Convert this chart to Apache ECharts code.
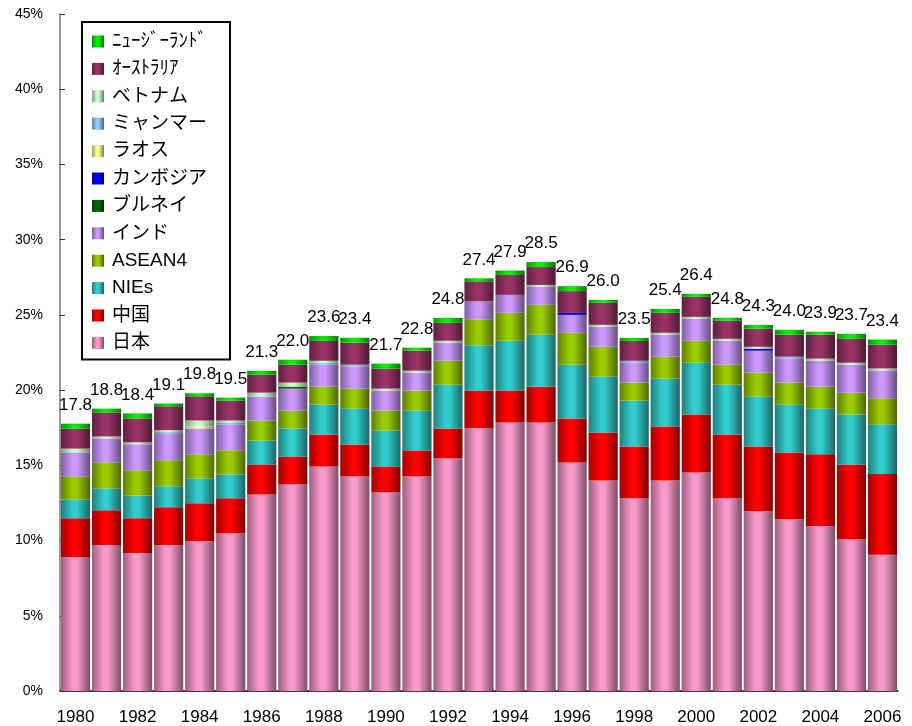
<!DOCTYPE html>
<html>
<head>
<meta charset="utf-8">
<script src="https://cdn.jsdelivr.net/npm/echarts@6/dist/echarts.min.js"></script>
<style>
  html, body { margin: 0; padding: 0; background: #fff; }
  #chart { width: 912px; height: 726px; }
</style>
</head>
<body>
<div id="chart"></div>
<script>
const years = ['1980', '1981', '1982', '1983', '1984', '1985', '1986', '1987', '1988', '1989',
  '1990', '1991', '1992', '1993', '1994', '1995', '1996', '1997', '1998', '1999',
  '2000', '2001', '2002', '2003', '2004', '2005', '2006'];

const japan = [8.9, 9.7, 9.17, 9.7, 9.96, 10.49, 13.07, 13.74, 14.93, 14.27, 13.21, 14.27, 15.46, 17.48,
  17.85, 17.85, 15.19, 14.0, 12.81, 14.0, 14.53, 12.81, 11.95, 11.42, 10.96, 10.09, 9.05];
const china = [2.58, 2.31, 2.32, 2.52, 2.52, 2.32, 1.99, 1.85, 2.12, 2.12, 1.72, 1.72, 1.99, 2.48,
  2.12, 2.38, 2.92, 3.18, 3.45, 3.58, 3.85, 4.24, 4.31, 4.44, 4.77, 4.97, 5.37];
const nies = [1.24, 1.46, 1.51, 1.39, 1.65, 1.59, 1.59, 1.86, 1.99, 2.38, 2.38, 2.65, 2.91, 3.03,
  3.31, 3.45, 3.58, 3.72, 3.04, 3.18, 3.44, 3.31, 3.31, 3.18, 3.04, 3.32, 3.31];
const asean4 = [1.55, 1.73, 1.67, 1.73, 1.6, 1.6, 1.33, 1.19, 1.19, 1.33, 1.33, 1.33, 1.6, 1.72,
  1.86, 1.99, 2.12, 1.98, 1.2, 1.46, 1.46, 1.33, 1.59, 1.46, 1.46, 1.45, 1.73];
const india = [1.59, 1.59, 1.73, 1.74, 1.72, 1.72, 1.59, 1.46, 1.46, 1.46, 1.33, 1.19, 1.19, 1.19,
  1.19, 1.19, 1.19, 1.33, 1.32, 1.46, 1.46, 1.59, 1.46, 1.59, 1.73, 1.86, 1.85];
const brunei = [0, 0, 0, 0, 0, 0, 0, 0.13, 0, 0, 0, 0, 0, 0,
  0, 0, 0, 0, 0, 0, 0, 0, 0, 0, 0, 0, 0];
const cambodia = [0, 0, 0, 0, 0, 0, 0, 0, 0, 0, 0, 0, 0, 0,
  0, 0, 0.13, 0, 0, 0, 0, 0, 0.13, 0, 0, 0, 0];
const laos = [0, 0, 0, 0, 0.13, 0, 0, 0, 0, 0, 0, 0, 0, 0,
  0, 0, 0, 0, 0, 0, 0, 0, 0, 0, 0, 0, 0];
const myanmar = [0, 0, 0, 0.13, 0, 0.13, 0, 0, 0.13, 0.13, 0, 0, 0, 0,
  0, 0, 0, 0, 0.13, 0, 0, 0, 0, 0.13, 0, 0, 0];
const vietnam = [0.25, 0.13, 0.13, 0.13, 0.4, 0.13, 0.26, 0.27, 0.13, 0, 0.13, 0.13, 0.13, 0,
  0, 0.13, 0, 0.13, 0, 0.13, 0.13, 0.13, 0.13, 0, 0.13, 0.13, 0.13];
const australia = [1.33, 1.6, 1.59, 1.59, 1.61, 1.32, 1.2, 1.19, 1.32, 1.46, 1.33, 1.33, 1.19, 1.33,
  1.32, 1.19, 1.45, 1.46, 1.32, 1.33, 1.33, 1.2, 1.2, 1.46, 1.59, 1.59, 1.59];
const newZealand = [0.33, 0.25, 0.33, 0.18, 0.2, 0.2, 0.25, 0.33, 0.33, 0.33, 0.33, 0.2, 0.33, 0.2,
  0.3, 0.33, 0.33, 0.2, 0.2, 0.25, 0.2, 0.2, 0.25, 0.33, 0.2, 0.33, 0.33];

// totals printed above each bar
const totals = ['17.8', '18.8', '18.4', '19.1', '19.8', '19.5', '21.3', '22.0', '23.6', '23.4',
  '21.7', '22.8', '24.8', '27.4', '27.9', '28.5', '26.9', '26.0', '23.5', '25.4',
  '26.4', '24.8', '24.3', '24.0', '23.9', '23.7', '23.4'];

// bottom -> top of the stack
const seriesDefs = [
  { name: '日本', data: japan, color: '#F99ACB' },
  { name: '中国', data: china, color: '#FF0000' },
  { name: 'NIEs', data: nies, color: '#33CCCC' },
  { name: 'ASEAN4', data: asean4, color: '#99CC00' },
  { name: 'インド', data: india, color: '#CC99FF' },
  { name: 'ブルネイ', data: brunei, color: '#006600' },
  { name: 'カンボジア', data: cambodia, color: '#0000FF' },
  { name: 'ラオス', data: laos, color: '#FFFF99' },
  { name: 'ミャンマー', data: myanmar, color: '#99CCFF' },
  { name: 'ベトナム', data: vietnam, color: '#CCFFCC' },
  { name: 'ｵｰｽﾄﾗﾘｱ', data: australia, color: '#993366' },
  { name: 'ﾆｭｰｼﾞｰﾗﾝﾄﾞ', data: newZealand, color: '#00EE00' }
];

function darken(hex, k) {
  const n = parseInt(hex.slice(1), 16);
  const r = Math.round(((n >> 16) & 255) * (1 - k));
  const g = Math.round(((n >> 8) & 255) * (1 - k));
  const b = Math.round((n & 255) * (1 - k));
  return 'rgb(' + r + ',' + g + ',' + b + ')';
}

// cylinder-like shading across each bar
function cylinder(hex) {
  return new echarts.graphic.LinearGradient(0, 0, 1, 0, [
    { offset: 0, color: darken(hex, 0.38) },
    { offset: 0.4, color: hex },
    { offset: 0.55, color: hex },
    { offset: 1, color: darken(hex, 0.5) }
  ]);
}

const chart = echarts.init(document.getElementById('chart'));

const series = seriesDefs.map((s, i) => {
  const item = {
    name: s.name,
    type: 'bar',
    stack: 'total',
    barCategoryGap: '6%',
    data: s.data,
    itemStyle: { color: cylinder(s.color) }
  };
  if (i === seriesDefs.length - 1) {
    item.label = {
      show: true,
      position: 'top',
      distance: 10,
      formatter: (p) => totals[p.dataIndex],
      color: '#000',
      fontSize: 17,
      fontFamily: '"Liberation Sans Narrow", "Arial Narrow", "Liberation Sans", Arial, sans-serif'
    };
  }
  return item;
});

const option = {
  animation: false,
  backgroundColor: '#fff',
  grid: { left: 60, right: 14, top: 14, bottom: 33 },
  legend: {
    data: seriesDefs.map((s) => s.name).reverse(),
    orient: 'vertical',
    left: 82,
    top: 22,
    itemWidth: 12,
    itemHeight: 12,
    itemGap: 8.4,
    icon: 'rect',
    borderColor: '#000',
    borderWidth: 2,
    padding: [10, 23, 7, 10],
    backgroundColor: '#fff',
    textStyle: {
      fontSize: 19,
      lineHeight: 19,
      color: '#000',
      padding: [0, 0, 0, 3],
      fontFamily: '"Liberation Sans", "Noto Sans CJK JP", sans-serif'
    }
  },
  xAxis: {
    type: 'category',
    data: years,
    axisLine: { lineStyle: { color: '#000', width: 1.5 } },
    axisTick: { inside: true, length: 4, lineStyle: { color: '#333' } },
    axisLabel: {
      interval: 1,
      margin: 18,
      color: '#000',
      fontSize: 17,
      fontFamily: '"Liberation Sans", Arial, sans-serif'
    }
  },
  yAxis: {
    type: 'value',
    min: 0,
    max: 45,
    interval: 5,
    splitLine: { show: false },
    axisLine: { show: true, lineStyle: { color: '#777', width: 1.5 } },
    axisTick: { show: true, inside: true, length: 5, lineStyle: { color: '#333' } },
    axisLabel: {
      formatter: '{value}%',
      margin: 17,
      color: '#000',
      fontSize: 14,
      fontFamily: '"Liberation Sans", Arial, sans-serif'
    }
  },
  series: series
};

chart.setOption(option);
</script>
</body>
</html>
